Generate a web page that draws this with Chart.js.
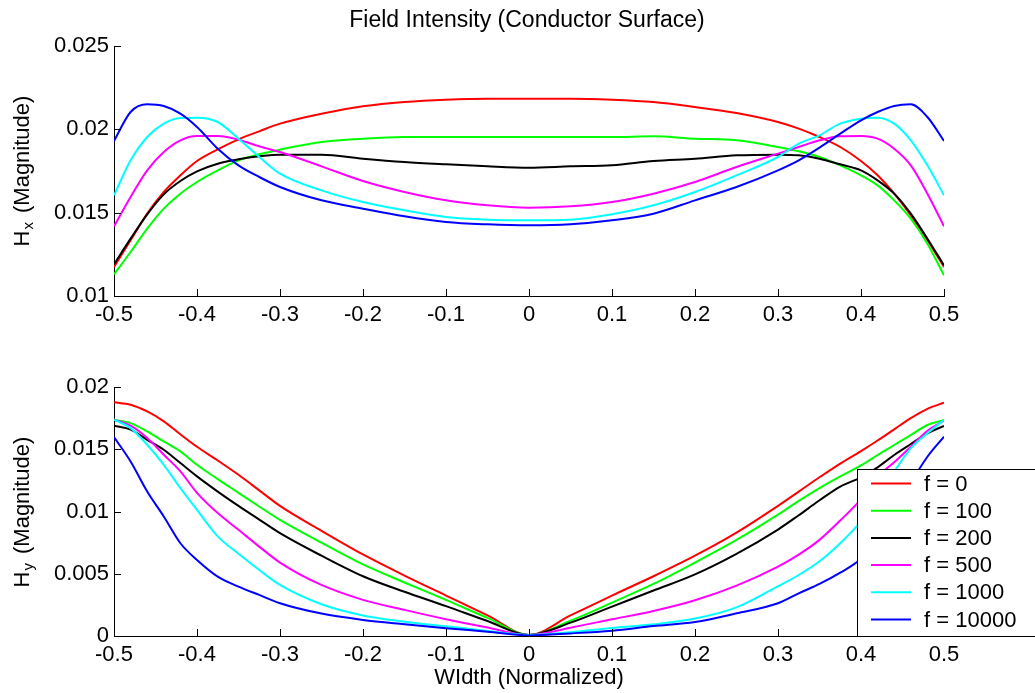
<!DOCTYPE html>
<html>
<head>
<meta charset="utf-8">
<script src="https://cdn.jsdelivr.net/npm/chart.js@4.4.1/dist/chart.umd.min.js"></script>
<style>
  html, body { margin: 0; padding: 0; background: #fff; }
  #wrap { position: relative; width: 1035px; height: 693px; overflow: hidden; }
  canvas { position: absolute; left: 0; }
  #hx { top: 0; }
  #hy { top: 340px; }
</style>
</head>
<body>
<div id="wrap">
  <canvas id="hx" width="1035" height="340"></canvas>
  <canvas id="hy" width="1035" height="353"></canvas>
</div>
<script>
// normalized width positions
const xs = [-0.5, -0.48, -0.46, -0.44, -0.42, -0.4, -0.375, -0.35, -0.325, -0.3, -0.25, -0.2, -0.15, -0.1, -0.05, 0,
  0.05, 0.1, 0.15, 0.2, 0.25, 0.3, 0.325, 0.35, 0.375, 0.4, 0.42, 0.44, 0.46, 0.48, 0.5];

const labels = ['f = 0', 'f = 100', 'f = 200', 'f = 500', 'f = 1000', 'f = 10000'];
const colors = ['#ff0000', '#00ff00', '#000000', '#ff00ff', '#00ffff', '#0000ff'];

// Hx magnitude, values in units of 1e-3
const hx0 = [11.74, 13.34, 14.94, 16.24, 17.24, 18.1, 18.8, 19.4, 19.88, 20.34, 20.94, 21.38, 21.64, 21.78, 21.84, 21.84,
  21.84, 21.78, 21.64, 21.34, 20.98, 20.44, 20.04, 19.54, 18.94, 18.1, 17.24, 16.14, 14.84, 13.34, 11.74];
const hx100 = [11.3, 12.64, 14.04, 15.24, 16.14, 16.84, 17.54, 18.14, 18.5, 18.78, 19.24, 19.44, 19.54, 19.54, 19.54, 19.54,
  19.54, 19.54, 19.58, 19.44, 19.34, 18.94, 18.68, 18.34, 17.84, 17.24, 16.64, 15.74, 14.64, 13.14, 11.24];
const hx200 = [11.9, 13.44, 14.9, 16.1, 16.9, 17.48, 17.94, 18.2, 18.38, 18.48, 18.48, 18.24, 18.04, 17.9, 17.78, 17.7,
  17.78, 17.84, 18.1, 18.24, 18.44, 18.48, 18.44, 18.24, 17.9, 17.54, 16.94, 16.14, 14.94, 13.44, 11.84];
const hx500 = [14.18, 15.94, 17.54, 18.64, 19.34, 19.6, 19.6, 19.38, 18.98, 18.64, 17.78, 16.9, 16.24, 15.74, 15.44, 15.3,
  15.38, 15.64, 16.14, 16.84, 17.74, 18.54, 18.94, 19.34, 19.58, 19.6, 19.44, 18.84, 17.84, 16.14, 14.18];
const hx1000 = [16.04, 18.14, 19.54, 20.34, 20.68, 20.7, 20.44, 19.44, 18.34, 17.34, 16.34, 15.64, 15.14, 14.74, 14.58, 14.54,
  14.58, 14.9, 15.44, 16.24, 17.24, 18.34, 19.14, 19.64, 20.34, 20.64, 20.7, 20.34, 19.34, 17.84, 16.04];
const hx10000 = [19.3, 21.04, 21.5, 21.4, 20.94, 20.14, 18.84, 17.84, 17.14, 16.54, 15.74, 15.24, 14.78, 14.44, 14.3, 14.24,
  14.3, 14.54, 14.94, 15.74, 16.54, 17.54, 18.14, 18.9, 19.74, 20.54, 21.04, 21.4, 21.5, 20.74, 19.3];

// Hy magnitude, values in units of 1e-3
const hy0 = [18.77, 18.58, 18.04, 17.24, 16.2, 15.2, 14.1, 12.95, 11.7, 10.45, 8.45, 6.55, 4.85, 3.25, 1.65, 0.08,
  1.65, 3.25, 4.8, 6.45, 8.3, 10.45, 11.6, 12.75, 13.85, 14.85, 15.7, 16.6, 17.5, 18.25, 18.74];
const hy100 = [17.37, 17.1, 16.43, 15.63, 14.83, 13.75, 12.6, 11.5, 10.4, 9.33, 7.5, 5.75, 4.3, 2.9, 1.45, 0.08,
  1.23, 2.68, 4.18, 5.9, 7.72, 9.75, 10.85, 11.88, 12.82, 13.7, 14.54, 15.34, 16.14, 16.95, 17.35];
const hy200 = [16.89, 16.57, 15.76, 14.96, 13.89, 12.82, 11.6, 10.45, 9.35, 8.26, 6.45, 4.8, 3.55, 2.4, 1.2, 0.08,
  1.07, 2.36, 3.65, 4.95, 6.6, 8.55, 9.7, 10.9, 12.0, 12.75, 13.55, 14.54, 15.42, 16.28, 16.87];
const hy500 = [17.37, 16.89, 15.9, 14.56, 13.22, 11.5, 9.87, 8.53, 7.18, 5.9, 4.1, 2.9, 2.1, 1.35, 0.68, 0.08,
  0.67, 1.34, 2.01, 2.87, 4.05, 5.58, 6.54, 7.72, 9.28, 11.0, 12.8, 13.95, 15.2, 16.49, 17.3];
const hy1000 = [17.37, 16.7, 15.36, 13.75, 11.88, 10.13, 8.0, 6.6, 5.3, 4.1, 2.55, 1.65, 1.15, 0.78, 0.4, 0.08,
  0.3, 0.64, 0.94, 1.4, 2.3, 4.0, 4.9, 6.0, 7.45, 9.2, 11.06, 13.2, 15.07, 16.28, 17.35];
const hy10000 = [15.98, 14.02, 11.61, 9.6, 7.45, 6.11, 4.77, 3.97, 3.3, 2.63, 1.8, 1.29, 0.94, 0.62, 0.35, 0.05,
  0.21, 0.43, 0.8, 1.13, 1.82, 2.63, 3.43, 4.18, 5.09, 6.2, 7.8, 9.9, 12.3, 14.4, 16.01];

const xTicks = [-0.5, -0.4, -0.3, -0.2, -0.1, 0, 0.1, 0.2, 0.3, 0.4, 0.5];

const FONT = '"Liberation Sans", Arial, Helvetica, sans-serif';

function makeDatasets(series) {
  return series.map((vals, i) => ({
    label: labels[i],
    data: vals.map((v, j) => ({ x: xs[j], y: v * 1e-3 })),
    borderColor: colors[i],
    borderWidth: 2,
    pointRadius: 0,
    fill: false,
    cubicInterpolationMode: 'monotone',
    order: series.length - i
  }));
}

function fmt(v) {
  const r = Number(v.toFixed(4));
  return r === 0 ? '0' : String(r);
}

// tick marks point inward like the original plot
const inwardTicks = {
  id: 'inwardTicks',
  afterDraw(chart) {
    const { ctx, chartArea: a, scales } = chart;
    ctx.save();
    ctx.strokeStyle = '#000';
    ctx.lineWidth = 1;
    ctx.beginPath();
    scales.x.ticks.forEach(t => {
      const px = Math.round(scales.x.getPixelForValue(t.value)) + 0.5;
      ctx.moveTo(px, a.bottom);
      ctx.lineTo(px, a.bottom - 7);
    });
    scales.y.ticks.forEach(t => {
      const py = Math.round(scales.y.getPixelForValue(t.value)) + 0.5;
      ctx.moveTo(a.left, py);
      ctx.lineTo(a.left + 7, py);
    });
    ctx.stroke();
    ctx.restore();
  }
};

function drawYTitle(ctx, cx, cy, sub) {
  ctx.save();
  ctx.translate(cx, cy);
  ctx.rotate(-Math.PI / 2);
  ctx.fillStyle = '#000';
  ctx.textBaseline = 'middle';
  const big = '22px ' + FONT, small = '15px ' + FONT;
  ctx.font = big;
  const wH = ctx.measureText('H').width;
  const wRest = ctx.measureText('(Magnitude)').width;
  ctx.font = small;
  const wS = ctx.measureText(sub).width;
  const gap = 10;
  let x = -(wH + wS + gap + wRest) / 2;
  ctx.font = big;
  ctx.fillText('H', x, 0);
  x += wH;
  ctx.font = small;
  ctx.fillText(sub, x + 1, 6);
  x += wS + gap;
  ctx.font = big;
  ctx.fillText('(Magnitude)', x, 0);
  ctx.restore();
}

function baseOptions(yMin, yMax, pad, xHeight) {
  return {
    responsive: false,
    animation: false,
    devicePixelRatio: 1,
    layout: { padding: pad },
    plugins: { legend: { display: false }, tooltip: { enabled: false }, title: { display: false } },
    scales: {
      x: {
        type: 'linear',
        min: -0.5, max: 0.5,
        afterFit(s) { s.height = xHeight; },
        afterBuildTicks(s) { s.ticks = xTicks.map(v => ({ value: v })); },
        grid: { display: false, drawTicks: false },
        border: { display: true, color: '#000', width: 1 },
        ticks: {
          color: '#000', padding: 6, maxRotation: 0, autoSkip: false,
          font: { family: FONT, size: 22 },
          callback: v => fmt(v)
        }
      },
      y: {
        min: yMin, max: yMax,
        afterFit(s) { s.width = 114; },
        grid: { display: false, drawTicks: false },
        border: { display: true, color: '#000', width: 1 },
        ticks: {
          color: '#000', padding: 5, stepSize: 0.005,
          font: { family: FONT, size: 22 },
          callback: v => fmt(v)
        }
      }
    }
  };
}

// top: Hx
new Chart(document.getElementById('hx'), {
  type: 'line',
  data: { datasets: makeDatasets([hx0, hx100, hx200, hx500, hx1000, hx10000]) },
  options: baseOptions(0.01, 0.025, { top: 46, right: 91, left: 0, bottom: 0 }, 44),
  plugins: [inwardTicks, {
    id: 'hxText',
    afterDraw(chart) {
      const ctx = chart.ctx;
      ctx.save();
      ctx.fillStyle = '#000';
      ctx.font = '23px ' + FONT;
      ctx.textAlign = 'center';
      ctx.textBaseline = 'middle';
      ctx.fillText('Field Intensity (Conductor Surface)', 527, 21);
      ctx.restore();
      drawYTitle(ctx, 23, 171, 'x');
    }
  }]
});

// bottom: Hy
new Chart(document.getElementById('hy'), {
  type: 'line',
  data: { datasets: makeDatasets([hy0, hy100, hy200, hy500, hy1000, hy10000]) },
  options: baseOptions(0, 0.02, { top: 47, right: 91, left: 0, bottom: 0 }, 57),
  plugins: [inwardTicks, {
    id: 'hyText',
    afterDraw(chart) {
      const ctx = chart.ctx;
      ctx.save();
      ctx.fillStyle = '#000';
      ctx.font = '22px ' + FONT;
      ctx.textAlign = 'center';
      ctx.textBaseline = 'middle';
      ctx.fillText('WIdth (Normalized)', 529, 338);
      ctx.restore();
      drawYTitle(ctx, 23, 172, 'y');

      // legend box overlapping the plot, as in the original
      const top = 129.5, left = 857.5;
      ctx.save();
      ctx.fillStyle = '#fff';
      ctx.fillRect(left, top, 200, 167);
      ctx.strokeStyle = '#000';
      ctx.lineWidth = 1;
      ctx.strokeRect(left, top, 200, 167);
      ctx.font = '22px ' + FONT;
      ctx.textBaseline = 'middle';
      ctx.textAlign = 'left';
      chart.data.datasets.forEach((ds, i) => {
        const y = 143.5 + i * 27.2;
        ctx.strokeStyle = ds.borderColor;
        ctx.lineWidth = 2;
        ctx.beginPath();
        ctx.moveTo(871, y);
        ctx.lineTo(911, y);
        ctx.stroke();
        ctx.fillStyle = '#000';
        ctx.fillText(ds.label, 924, y + 1);
      });
      ctx.restore();
    }
  }]
});
</script>
</body>
</html>
